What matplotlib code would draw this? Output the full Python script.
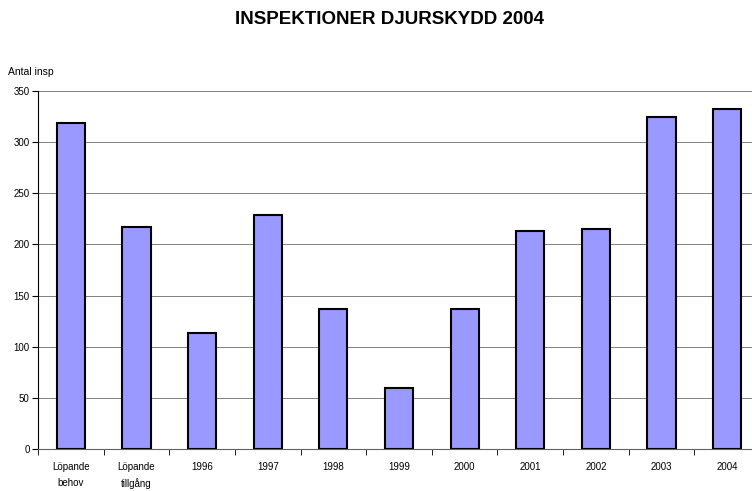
import matplotlib.pyplot as plt
import numpy as np

categories = ['Löpande\nbehov', 'Löpande\ntillgång', '1996', '1997', '1998', '1999',
              '2000', '2001', '2002', '2003', '2004']
values = [319, 217, 113, 229, 137, 60, 137, 213, 215, 325, 332]
yticks = [0, 50, 100, 150, 200, 250, 300, 350]

fig = plt.figure(figsize=(7.52, 4.91), dpi=100)
ax = fig.add_axes([38/752, 42/491, 722/752, 358/491])

x = np.arange(len(categories))
ax.bar(x, values, width=0.43, color='#9999ff', edgecolor='black', linewidth=1.5, zorder=3)

ax.set_xlim(-0.5, len(categories) - 0.5)
ax.set_ylim(0, 350)
ax.set_yticks(yticks)
ax.set_yticklabels([str(t) for t in yticks], fontsize=7, fontfamily='Liberation Sans')
ax.yaxis.grid(True, color='#808080', linewidth=0.7, zorder=0)

ax.set_xticks(x)
ax.set_xticklabels(categories, fontsize=7, fontfamily='Liberation Sans', linespacing=1.75)
ax.tick_params(axis='x', length=0, pad=9)
ax.set_xticks(np.arange(-0.5, len(categories)), minor=True)
ax.tick_params(axis='x', which='minor', length=4, color='black', direction='out')
ax.tick_params(axis='y', length=4, color='black', direction='out', pad=2)

for s in ['top', 'right']:
    ax.spines[s].set_visible(False)
ax.spines['left'].set_color('black')
ax.spines['bottom'].set_color('#606060')

fig.text(390/752, 1 - 20/491, 'INSPEKTIONER DJURSKYDD 2004',
         ha='center', va='center', fontsize=13.5, fontweight='bold', fontfamily='Liberation Sans')
fig.text(8/752, 1 - 72/491, 'Antal insp', ha='left', va='center', fontsize=7.5,
         fontfamily='Liberation Sans')

fig.savefig('out.png', dpi=100)
